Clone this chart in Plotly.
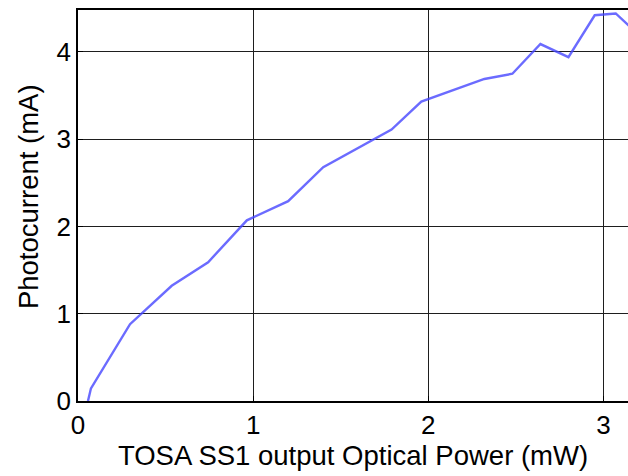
import plotly.graph_objects as go

# Measured photocurrent versus TOSA optical output power
optical_power_mw = [0.057, 0.074, 0.297, 0.535, 0.743, 0.964, 1.20, 1.40, 1.79,
                    1.96, 2.32, 2.48, 2.64, 2.80, 2.95, 3.07, 3.20]
photocurrent_ma = [0.0, 0.145, 0.88, 1.32, 1.59, 2.07, 2.29, 2.68, 3.11,
                   3.43, 3.69, 3.75, 4.09, 3.94, 4.42, 4.44, 4.20]

x_ticks = [0, 1, 2, 3]
y_ticks = [0, 1, 2, 3, 4]

FONT = "Liberation Sans, Arial"

fig = go.Figure()
fig.add_trace(go.Scatter(
    x=optical_power_mw,
    y=photocurrent_ma,
    mode="lines",
    line=dict(color="rgba(70,70,255,0.8)", width=2.4),
    showlegend=False,
))

axis_common = dict(
    showline=True,
    linecolor="black",
    linewidth=1.5,
    showgrid=True,
    gridcolor="#1e1e1e",
    gridwidth=1,
    zeroline=False,
    ticks="inside",
    ticklen=5,
    tickcolor="black",
    tickfont=dict(family=FONT, size=26, color="black"),
)

fig.update_xaxes(
    range=[0, 3.14],
    tickvals=x_ticks,
    mirror=True,
    title_text="TOSA SS1 output Optical Power (mW)",
    title_font=dict(family=FONT, size=27.5, color="black"),
    title_standoff=4,
    **axis_common,
)
fig.update_yaxes(
    range=[0, 4.48],
    tickvals=y_ticks,
    mirror=False,
    **axis_common,
)

# Vertical axis label placed as a rotated annotation
fig.add_annotation(
    text="Photocurrent (mA)",
    xref="paper", yref="paper",
    x=-0.091, y=0.524,
    xanchor="center", yanchor="middle",
    textangle=-90,
    showarrow=False,
    font=dict(family=FONT, size=27.5, color="black"),
)

fig.update_layout(
    width=628,
    height=476,
    margin=dict(l=78, r=0, t=10, b=75),
    paper_bgcolor="white",
    plot_bgcolor="white",
)

fig.write_html("out.html")
